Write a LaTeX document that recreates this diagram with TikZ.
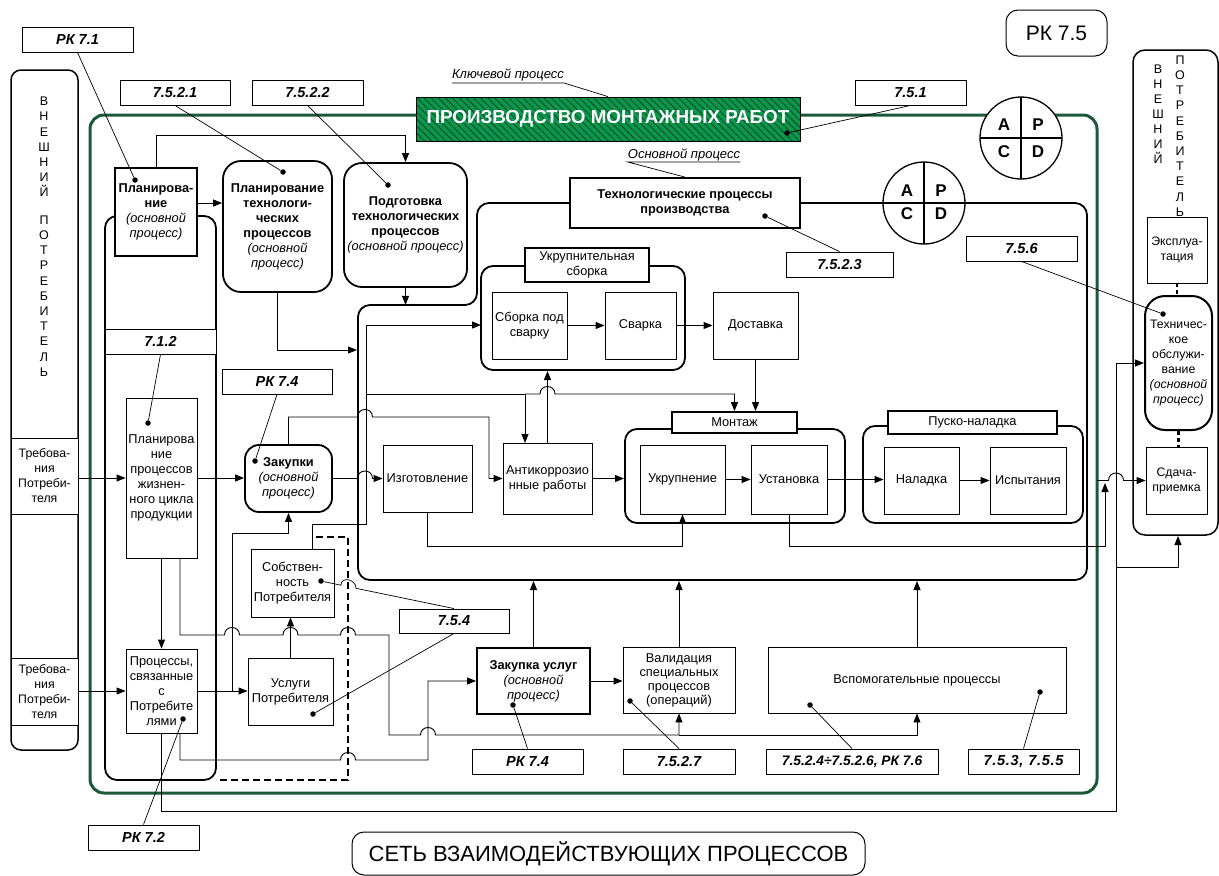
\documentclass[tikz,border=0pt]{standalone}
\usepackage{fontspec}
\setmainfont{Liberation Sans}
\usetikzlibrary{arrows.meta,patterns.meta,calc}
\definecolor{framegreen}{RGB}{28,88,58}
\definecolor{titlegreen}{RGB}{12,150,76}
\definecolor{hatchgreen}{RGB}{6,72,38}
\tikzset{
  txt/.style={font=\fontsize{12.8}{15}\selectfont},
  small/.style={font=\fontsize{12.3}{15}\selectfont},
  box/.style={draw, line width=0.9pt, fill=white, align=center, inner sep=1pt, txt},
  heavy/.style={box, line width=1.8pt},
  soft/.style={heavy, rounded corners=14pt},
  sz/.style 2 args={minimum width=#1pt, minimum height=#2pt},
  ref/.style={draw, line width=0.9pt, fill=white, inner sep=1pt,
    font=\fontsize{14.5}{16}\selectfont\bfseries\itshape, minimum height=25pt},
  dot/.style={circle, fill=black, inner sep=0pt, minimum size=5.5pt},
  lead/.style={line width=0.7pt},
  conn/.style={line width=0.9pt},
  arr/.style={conn, -{Triangle[length=9pt,width=7pt]}},
  group/.style={line width=1.8pt, rounded corners=12pt},
  hop/.style 2 args={insert path={-- ({#1-7.5},#2) .. controls ({#1-7.5},{#2-10}) and ({#1+7.5},{#2-10}) .. ({#1+7.5},#2)}},
  letters/.style={font=\fontsize{12.5}{15.2}\selectfont, align=center, inner sep=0pt},
  pdca/.style={font=\fontsize{17}{17}\selectfont\bfseries, inner sep=0pt},
  note/.style={font=\fontsize{13}{15}\selectfont\itshape, inner sep=0pt},
}
\begin{document}
\begin{tikzpicture}[x=1pt,y=-1pt]
\useasboundingbox (0,0) rectangle (1219,876);

% ---------- external consumer, left ----------
\draw[line width=1.5pt, rounded corners=10pt] (11,70) rectangle (78,750);
\node[letters] (extLa) at (44,147) {В\\Н\\Е\\Ш\\Н\\И\\Й};
\node[letters] (extLb) at (44,296) {П\\О\\Т\\Р\\Е\\Б\\И\\Т\\Е\\Л\\Ь};
\node[box, sz={67}{76}, small] (req1) at (44.5,476) {Требова-\\ния\\Потреби-\\теля};
\node[box, sz={67}{67}, small] (req2) at (44.5,691.5) {Требова-\\ния\\Потреби-\\теля};

% ---------- external consumer, right ----------
\draw[line width=1.5pt, rounded corners=12pt] (1133,50) rectangle (1218,535);
\node[letters, font=\fontsize{12.5}{15}\selectfont] (extRa) at (1158,114) {В\\Н\\Е\\Ш\\Н\\И\\Й};
\node[letters, font=\fontsize{12.5}{15.2}\selectfont] (extRb) at (1180,136) {П\\О\\Т\\Р\\Е\\Б\\И\\Т\\Е\\Л\\Ь};

% ---------- key process frame ----------
\draw[framegreen, line width=3pt, rounded corners=14pt] (90,115) rectangle (1097,793);

% ---------- planning column ----------
\draw[group] (105,216) rectangle (216,780);
\draw[line width=1.8pt, dash pattern=on 7pt off 4pt] (316,537) -- (348,537) -- (348,780) -- (216,780);

% ---------- technological processes frame ----------
\draw[group] (358,305) -- (477,305) -- (477,203) -- (1087,203) -- (1087,580) -- (358,580) -- cycle;
\draw[group] (481,266) rectangle (685,370);
\draw[group] (625,429) rectangle (845,523);
\draw[group] (863,426) rectangle (1083,523);

% ---------- title ----------
\node[draw=black, line width=1pt, preaction={fill=titlegreen},
  pattern={Lines[angle=-45,distance=5pt,line width=0.8pt]}, pattern color=hatchgreen,
  sz={384}{44}, text=white, font=\fontsize{18.8}{20}\selectfont\bfseries, inner sep=0pt]
  (prod) at (608,119) {ПРОИЗВОДСТВО МОНТАЖНЫХ РАБОТ};
\node[note, anchor=base] (keyp) at (508,78) {Ключевой процесс};
\draw[lead] ([yshift=-5pt]keyp.base west) -- ([yshift=-5pt]keyp.base east) -- (prod.north);

\node[draw, line width=1pt, rounded corners=12pt, sz={101}{46}, font=\fontsize{21}{24}\selectfont] (rk75) at (1056.5,33) {РК 7.5};
\node[draw, line width=1pt, rounded corners=12pt, sz={513}{43}, font=\fontsize{22}{24}\selectfont] (net) at (608.5,853.5) {СЕТЬ ВЗАИМОДЕЙСТВУЮЩИХ ПРОЦЕССОВ};

% ---------- process boxes ----------
\node[heavy, sz={82}{88}] (plan) at (156,212) {\textbf{Планирова-}\\\textbf{ние}\\\textit{(основной}\\\textit{процесс)}};
\node[soft, rounded corners=18pt, sz={109}{131}] (ptp) at (277.5,226.5) {\textbf{Планирование}\\\textbf{технологи-}\\\textbf{ческих}\\\textbf{процессов}\\\textit{(основной}\\\textit{процесс)}};
\node[soft, rounded corners=18pt, sz={123}{124}] (ptech) at (405.5,225) {\textbf{Подготовка}\\\textbf{технологических}\\\textbf{процессов}\\\textit{(основной процесс)}};
\node[heavy, sz={230}{50}] (tp) at (685,203) {\textbf{Технологические процессы}\\\textbf{производства}};
\node[note, anchor=base] (basic) at (684,158) {Основной процесс};
\draw[lead] ([yshift=-4pt]basic.base east) -- ([yshift=-4pt]basic.base west) -- (tp.north);

\node[box, sz={71}{160}] (plc) at (161.5,478) {Планирова\\ние\\процессов\\жизнен-\\ного цикла\\продукции};
\node[box, sz={71}{84}] (pcust) at (161.5,691) {Процессы,\\связанные\\с\\Потребите\\лями};
\node[soft, sz={87}{67}] (zak) at (288.5,478.5) {\textbf{Закупки}\\\textit{(основной}\\\textit{процесс)}};
\node[box, sz={83}{68}] (sobst) at (292.5,583) {Собствен-\\ность\\Потребителя};
\node[box, sz={85}{67}] (usl) at (290.5,691.5) {Услуги\\Потребителя};
\node[box, sz={89}{67}] (izg) at (427.5,478.5) {Изготовление};
\node[box, sz={89}{71}] (anti) at (547.5,478.5) {Антикоррозио\\нные работы};

\node[heavy, sz={124}{34}] (ukl) at (587,265) {Укрупнительная\\сборка};
\node[box, sz={75}{67}] (sbor) at (529.5,325.5) {Сборка под\\сварку};
\node[box, sz={71}{67}] (svar) at (640.5,325.5) {Сварка};
\node[box, sz={85}{67}] (dost) at (755.5,325.5) {Доставка};

\node[heavy, sz={125}{21}] (montl) at (734.5,422.5) {Монтаж};
\node[box, sz={85}{69}] (ukr) at (682.5,479.5) {Укрупнение};
\node[box, sz={76}{69}] (ust) at (789,479.5) {Установка};
\node[heavy, sz={169}{23}] (pnl) at (972.5,422.5) {Пуско-наладка};
\node[box, sz={75}{67}] (nal) at (921.5,480.5) {Наладка};
\node[box, sz={76}{67}] (isp) at (1028,480.5) {Испытания};

\node[heavy, sz={113}{66}] (zaku) at (533.5,681) {\textbf{Закупка услуг}\\\textit{(основной}\\\textit{процесс)}};
\node[box, sz={112}{66}, font=\fontsize{12.8}{14}\selectfont] (val) at (679,680) {Валидация\\специальных\\процессов\\(операций)};
\node[box, sz={298}{66}, txt] (vsp) at (917,680) {Вспомогательные процессы};

\node[box, sz={60}{66}, small] (expl) at (1177,250) {Эксплуа-\\тация};
\node[soft, rounded corners=20pt, line width=2pt, sz={67}{134}, small] (to) at (1178.5,363) {Техничес-\\кое\\обслужи-\\вание\\\textit{(основной}\\\textit{процесс)}};
\node[box, sz={61}{67}, small] (sdacha) at (1176.5,480.5) {Сдача-\\приемка};
\draw[line width=2.2pt, dash pattern=on 4pt off 3pt] (expl.south) -- (expl.south |- to.north);
\draw[line width=2.2pt, dash pattern=on 4pt off 3pt] (to.south) -- (to.south |- sdacha.north);

% ---------- PDCA circles ----------
\draw[line width=1.3pt, fill=white] (1021,138) circle[radius=41pt];
\draw[line width=1.3pt] (980,138) -- (1062,138) (1021,97) -- (1021,179);
\node[pdca] (pa1) at (1004,125) {A};
\node[pdca] (pp1) at (1038,125) {P};
\node[pdca] (pc1) at (1004,151.5) {C};
\node[pdca] (pd1) at (1038,151.5) {D};
\draw[line width=1.3pt, fill=white] (924,203) circle[radius=41pt];
\draw[line width=1.3pt] (883,203) -- (965,203) (924,162) -- (924,244);
\node[pdca] (pa2) at (907,190.5) {A};
\node[pdca] (pp2) at (941,190.5) {P};
\node[pdca] (pc2) at (907,214) {C};
\node[pdca] (pd2) at (941,214) {D};

% ---------- connectors ----------
\draw[arr] (plan.north) -- ++(0,-32) -| (ptech.north);
\draw[arr] ([yshift=9pt]plan.east) -- ([yshift=9pt]plan.east -| ptp.west);
\draw[arr] (ptp.south) |- (357,350);
\draw[arr] (ptech.south) -- ++(0,17);
\draw[arr] (plc.west -| req1.east) -- (plc.west);
\draw[arr] (plc.east) -- (plc.east -| zak.west);
\draw[arr] (zak.east) [hop={365}{478.5}] -- (izg.west);
\draw[arr] (zak.north) -- (288.5,417) [hop={365}{417}] -- (489,417) -- (489,478.5) -- (anti.west);
\draw[arr] (plc.south) -- (pcust.north);
\draw[arr] ([xshift=18.5pt]plc.south) -- (180,635) [hop={232}{635}] [hop={290.5}{635}] [hop={348}{635}]
  -- (389,635) -- (389,735) [hop={428}{735}] -- (679,735) -- (val.south);
\draw[arr] (679,735) -- (917,735) -- (vsp.south);
\draw[arr] (pcust.west -| req2.east) -- (pcust.west);
\draw[arr] (pcust.east) -- (pcust.east -| usl.west);
\draw[arr] (232,691) -- (232,533) -- (288.5,533) -- (zak.south);
\draw[arr] (usl.north) -- (usl.north |- sobst.south);
\draw[arr] ([xshift=19.5pt]sobst.north) -- (312,524) -- (366,524) -- (366,325) -- (481,325);
\draw[arr] (366,394) -- (525,394) -- (525,443);
\draw[arr] (525,394) [hop={547.5}{394}] -- (734.5,394) -- (montl.north);
\draw[arr] (anti.north) -- (547.5,371);
\draw[arr] (sbor.east) -- (svar.west);
\draw[arr] (svar.east) -- (dost.west);
\draw[arr] (dost.south) -- (dost.south |- montl.north);
\draw[arr] (anti.east) -- (624,478.5);
\draw[arr] (ukr.east) -- (ust.west);
\draw[arr] (ust.east) -- (ust.east -| nal.west);
\draw[arr] (nal.east) -- (isp.west);
\draw[arr] (izg.south) -- (427.5,546) -- (682.5,546) -- (ukr.south);
\draw[arr] (ust.south) -- (789,546) -- (1105,546) -- (1105,483);
\draw[arr] (1097,480.5) [hop={1116}{480.5}] -- (sdacha.west);
\draw[arr] (zaku.north) -- (533.5,581);
\draw[arr] (val.north) -- (679,581);
\draw[arr] (vsp.north) -- (917,581);
\draw[arr] (zaku.east) -- (zaku.east -| val.west);
\draw[arr] ([xshift=18.5pt]pcust.south) -- (180,760) [hop={348}{760}] -- (428,760) -- (428,681) -- (zaku.west);
\draw[arr] (pcust.south) -- (161.5,811) -- (1116,811) -- (1116,363) -- (to.west);
\draw[arr] (1116,567) -- (1178,567) -- (1178,536);

% ---------- references ----------
\node[ref, sz={111}{25}] (r71) at (77.5,39.5) {РК 7.1};
\node[ref, sz={110}{25}] (r7521) at (175,92.5) {7.5.2.1};
\node[ref, sz={111}{25}] (r7522) at (307.5,92.5) {7.5.2.2};
\node[ref, sz={111}{25}] (r751) at (910.5,92.5) {7.5.1};
\node[ref, sz={107}{25}] (r7523) at (839.5,264.5) {7.5.2.3};
\node[ref, sz={111}{25}] (r756) at (1021.5,248.5) {7.5.6};
\node[ref, sz={111}{25}] (r712) at (160.5,341.5) {7.1.2};
\node[ref, sz={110}{25}] (r74a) at (277,381.5) {РК 7.4};
\node[ref, sz={110}{24}] (r754) at (454,621) {7.5.4};
\node[ref, sz={111}{25}] (r74b) at (527.5,761.5) {РК 7.4};
\node[ref, sz={112}{25}] (r7527) at (679,761.5) {7.5.2.7};
\node[ref, sz={172}{25}, font=\fontsize{13.8}{16}\selectfont\bfseries\itshape] (r7524) at (852,761.5) {7.5.2.4÷7.5.2.6, РК 7.6};
\node[ref, sz={111}{25}, font=\fontsize{14.5}{16}\selectfont\bfseries\itshape\addfontfeatures{LetterSpace=5}] (r753) at (1023.5,761.5) {7.5.3, 7.5.5};
\node[ref, sz={111}{25}] (r72) at (143.5,837.5) {РК 7.2};

\node[dot] (d71) at (135,180) {};
\node[dot] (d7521) at (283,172) {};
\node[dot] (d7522) at (388,185) {};
\node[dot] (d751) at (787,133) {};
\node[dot] (d7523) at (765,216) {};
\node[dot] (d756) at (1163,314) {};
\node[dot] (d712) at (148,423) {};
\node[dot] (d74a) at (255,461) {};
\node[dot] (d754a) at (321,581) {};
\node[dot] (d754b) at (313,714) {};
\node[dot] (d74b) at (513,705) {};
\node[dot] (d7527) at (630,701) {};
\node[dot] (d7524) at (810,705) {};
\node[dot] (d753) at (1040,692) {};
\node[dot] (d72) at (183,719) {};

\draw[lead] (r71.south) -- (d71);
\draw[lead] (r7521.south) -- (d7521);
\draw[lead] (r7522.south) -- (d7522);
\draw[lead] (r751.south) -- (d751);
\draw[lead] (r7523.north) -- (d7523);
\draw[lead] (r756.south) -- (d756);
\draw[lead] (r712.south) -- (d712);
\draw[lead] (r74a.south) -- (d74a);
\draw[lead] (r754.north) -- (356,588.3) .. controls (356,579) and (341,576) .. (341,585.2) -- (d754a);
\draw[lead] (r754.south) -- (d754b);
\draw[lead] (r74b.north) -- (d74b);
\draw[lead] (r7527.north) -- (d7527);
\draw[lead] (r7524.north) -- (d7524);
\draw[lead] (r753.north) -- (d753);
\draw[lead] (r72.north) -- (d72);
\end{tikzpicture}
\end{document}
